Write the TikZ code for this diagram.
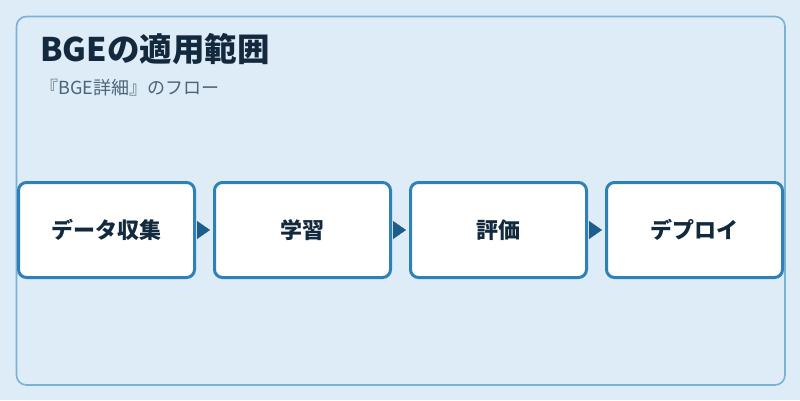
\documentclass[tikz,border=0pt]{standalone}
\usepackage{fontspec}
\setmainfont{Noto Sans CJK JP}
\usetikzlibrary{arrows.meta}
\tikzset{>=latex}
\definecolor{bgblue}{HTML}{DDECF7}
\definecolor{framecol}{HTML}{7AB2D6}
\definecolor{boxcol}{HTML}{2E80B8}
\definecolor{arrowcol}{HTML}{1E5C8A}
\definecolor{titlecol}{HTML}{13293D}
\definecolor{subcol}{HTML}{4B6478}
\tikzset{
    stage/.style={draw=boxcol, line width=3pt, fill=white, rounded corners=8pt, minimum width=176pt, minimum height=95pt, inner sep=0pt, outer sep=0pt, text=titlecol, font=\bfseries\fontsize{22}{26}\selectfont},
    flow/.style={-{Triangle[length=13pt, width=18pt]}, draw=arrowcol, fill=arrowcol, line width=0.4pt, shorten <=2.5pt, shorten >=4.5pt}
}

\begin{document}
\begin{tikzpicture}[x=1pt, y=-1pt]
            \useasboundingbox (0, 0) rectangle (800, 400);
            \fill[bgblue] (0, 0) rectangle (800, 400);
            \draw[framecol, line width=1.6pt, rounded corners=10pt] (16.5, 16.5) rectangle (785, 385);
            
            \node[anchor=base west, inner sep=0pt, text=titlecol, font=\bfseries\fontsize{32.5}{38}\selectfont] (title) at (40, 61) {BGEの適用範囲};
            \node[anchor=base west, inner sep=0pt, text=subcol, font=\fontsize{18}{22}\selectfont] (subtitle) at (40, 94) {『BGE詳細』のフロー};
            
            \node[stage] (s1) at (106.5, 230) {データ収集};
            \node[stage] (s2) at (302.5, 230) {学習};
            \node[stage] (s3) at (498.5, 230) {評価};
            \node[stage] (s4) at (694.5, 230) {デプロイ};
            
            \foreach \a/\b in {s1/s2, s2/s3, s3/s4} {
                \draw[flow] (\a.east) -- (\b.west);
            }
        \end{tikzpicture}
\end{document}
